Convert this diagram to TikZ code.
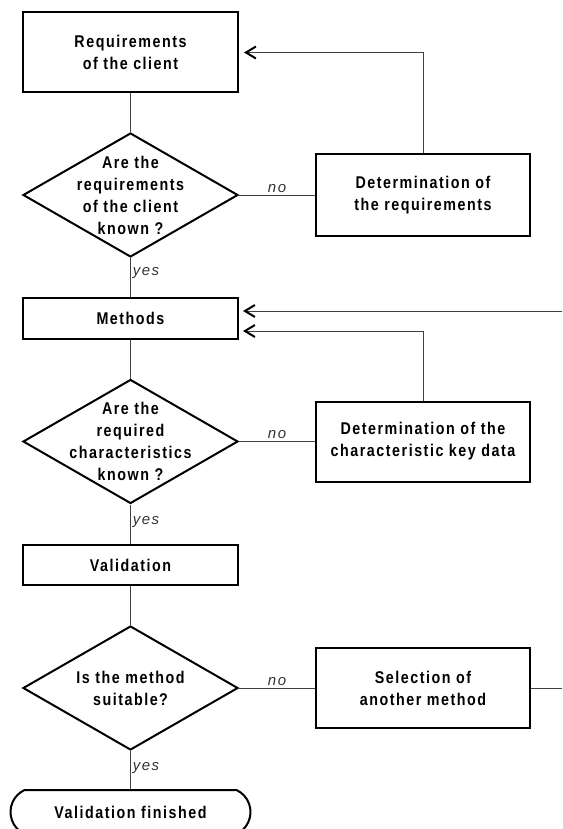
\documentclass[tikz,border=0pt]{standalone}
\usepackage{fontspec}
\setmainfont{Liberation Sans}
\newfontfamily\flowfont[LetterSpace=9,FakeStretch=0.84]{Liberation Sans}
\newfontfamily\answerfont[LetterSpace=10]{Liberation Sans}
\usetikzlibrary{shapes.geometric,shapes.misc,arrows.meta}

\begin{document}
\begin{tikzpicture}[x=1pt,y=-1pt,
  box/.style={draw,line width=2pt,minimum width=215pt,inner sep=0pt,align=center,font=\flowfont\bfseries\fontsize{17}{22}\selectfont},
  decision/.style={draw,diamond,line width=2pt,minimum width=215pt,minimum height=124pt,inner sep=0pt},
  qtext/.style={align=center,inner sep=0pt,font=\flowfont\bfseries\fontsize{17}{22}\selectfont},
  terminal/.style={draw,rounded rectangle,rounded rectangle arc length=130,line width=2pt,minimum width=240pt,minimum height=44pt,inner sep=0pt,font=\flowfont\bfseries\fontsize{17}{22}\selectfont},
  flow/.style={line width=0.8pt,black!75},
  back/.style={flow,-{Straight Barb[length=10pt,width=12pt,line width=2pt 0,black]},shorten >=5pt},
  answer/.style={inner sep=2pt,font=\answerfont\itshape\fontsize{15}{18}\selectfont,black!80}]

\useasboundingbox (0,0) rectangle (562,829);

\node[box,minimum height=80pt] (req) at (130.5,52.5) {Requirements\\of the client};
\node[decision] (q1) at (130.5,195) {};
\node[qtext] (q1text) at (q1) {Are the\\requirements\\of the client\\known ?};
\node[box,minimum width=214pt,minimum height=81pt] (det1) at (423,195) {Determination of\\the requirements};

\node[box,minimum height=41pt] (methods) at (130.5,318.5) {Methods};
\node[decision] (q2) at (130.5,441.5) {};
\node[qtext] (q2text) at (q2) {Are the\\required\\characteristics\\known ?};
\node[box,minimum width=214pt,minimum height=80pt] (det2) at (423,441.5) {Determination of the\\characteristic key data};

\node[box,minimum height=40pt] (valid) at (130.5,565) {Validation};
\node[decision] (q3) at (130.5,688) {};
\node[qtext] (q3text) at (q3) {Is the method\\suitable?};
\node[box,minimum width=214pt,minimum height=80pt] (sel) at (423,688) {Selection of\\another method};

\node[terminal] (fin) at (130.5,812) {Validation finished};

\coordinate (loopin) at (562,311);
\coordinate (loopout) at (562,688);
\coordinate (methodsin) at (238,311);
\coordinate (methodsback) at (238,331);

\draw[flow] (req) -- (q1);
\draw[flow] (q1.east) -- node[answer,above]{no} (det1.west);
\draw[back] (det1.north) |- (req.east);
\draw[flow] (q1.south) -- node[answer,pos=0.38,anchor=west]{yes} (methods.north);

\draw[back] (loopin) -- (methodsin);
\draw[back] (det2.north) |- (methodsback);
\draw[flow] (methods) -- (q2);
\draw[flow] (q2.east) -- node[answer,above]{no} (det2.west);
\draw[flow] (q2.south) -- node[answer,pos=0.45,anchor=west]{yes} (valid.north);

\draw[flow] (valid) -- (q3);
\draw[flow] (q3.east) -- node[answer,above]{no} (sel.west);
\draw[flow] (sel.east) -- (loopout);
\draw[flow] (q3.south) -- node[answer,pos=0.45,anchor=west]{yes} (fin.north);

\end{tikzpicture}
\end{document}
